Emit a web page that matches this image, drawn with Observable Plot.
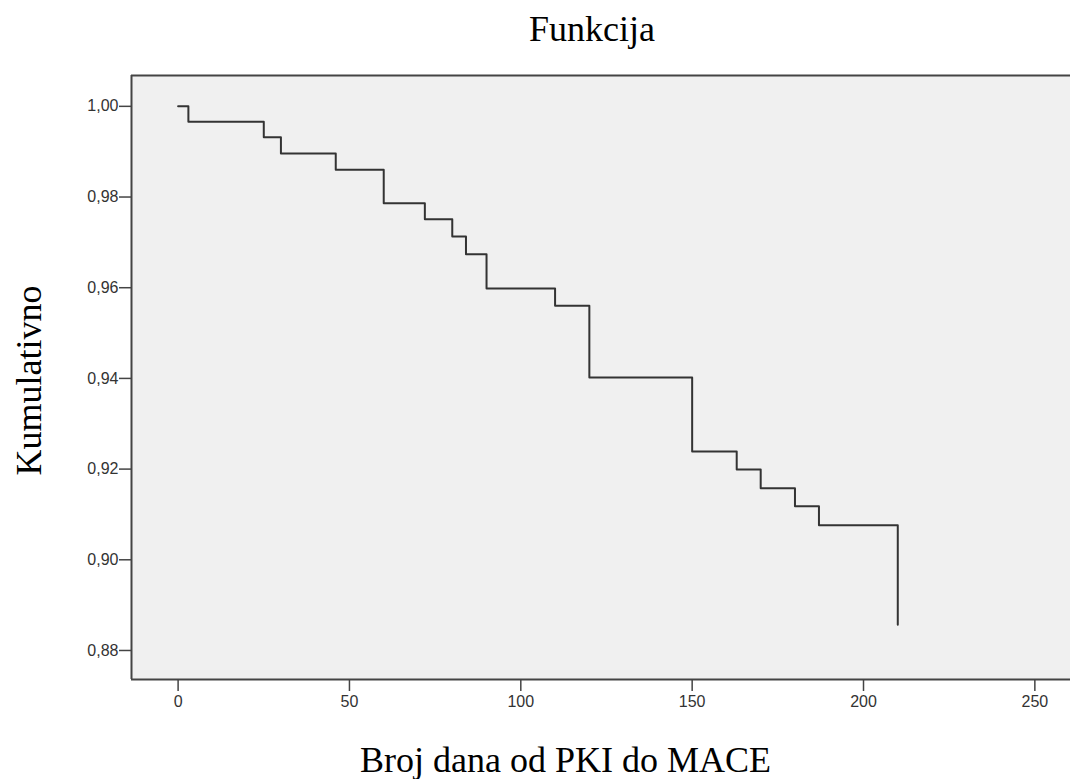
<!DOCTYPE html>
<html>
<head>
<meta charset="utf-8">
<script src="https://cdn.jsdelivr.net/npm/d3@7"></script>
<script src="https://cdn.jsdelivr.net/npm/@observablehq/plot@0.6"></script>
<style>
  html, body { margin: 0; padding: 0; background: #ffffff; }
  #chart { width: 1070px; height: 779px; overflow: hidden; }
</style>
</head>
<body>
<div id="chart"></div>
<script>
// Survival steps (days, cumulative)
const days = [0, 3, 25, 30, 46, 60, 72, 80, 84, 90, 110, 120, 150, 163, 170, 180, 187, 210];
const cumulative = [1.000, 0.9966, 0.9932, 0.9896, 0.9860, 0.9786, 0.9751, 0.9713, 0.9674, 0.9598, 0.9560, 0.9402, 0.9239, 0.9199, 0.9158, 0.9118, 0.9076, 0.8857];
const xTicks = [0, 50, 100, 150, 200, 250];
const yTicks = [0.88, 0.90, 0.92, 0.94, 0.96, 0.98, 1.00];
const titleText = "Funkcija";
const xLabel = "Broj dana od PKI do MACE";
const yLabel = "Kumulativno";

const data = days.map((d, i) => ({day: d, cum: cumulative[i]}));
const xDomain = [-13.6, 260.4];
const yDomain = [0.8736, 1.0068];

const serif = "'Liberation Serif', 'Times New Roman', serif";
const sans = "'Liberation Sans', Arial, sans-serif";

const chart = Plot.plot({
  width: 1070,
  height: 779,
  marginLeft: 131,
  marginTop: 75,
  marginBottom: 100,
  marginRight: 0,
  style: {background: "#ffffff", fontFamily: sans},
  x: {domain: xDomain},
  y: {domain: yDomain},
  marks: [
    Plot.frame({fill: "#f0f0f0", stroke: null}),
    Plot.line(data, {x: "day", y: "cum", curve: "step-after", stroke: "#333", strokeWidth: 2}),
    Plot.ruleY([yDomain[1]], {stroke: "#444", strokeWidth: 2}),
    Plot.ruleY([yDomain[0]], {stroke: "#444", strokeWidth: 2}),
    Plot.ruleX([xDomain[0]], {stroke: "#444", strokeWidth: 2}),
    Plot.axisY({
      ticks: yTicks,
      tickFormat: d => d.toFixed(2).replace(".", ","),
      tickSize: 12,
      tickPadding: 1,
      fontSize: 16,
      stroke: "#444",
      strokeWidth: 1.5,
      color: "#333",
      label: null
    }),
    Plot.axisX({
      ticks: xTicks,
      tickFormat: d => String(d),
      tickSize: 12,
      tickPadding: 4,
      fontSize: 16,
      stroke: "#444",
      strokeWidth: 1.5,
      color: "#333",
      label: null
    }),
    Plot.text([titleText], {
      frameAnchor: "top", dx: -9, dy: -46.5, textAnchor: "middle",
      fontSize: 36, fontFamily: serif, fill: "#000", lineAnchor: "middle"
    }),
    Plot.text([xLabel], {
      frameAnchor: "bottom", dx: -35.5, dy: 81, textAnchor: "middle",
      fontSize: 36, fontFamily: serif, fill: "#000", lineAnchor: "middle"
    }),
    Plot.text([yLabel], {
      frameAnchor: "left", dx: -102.5, dy: 3, rotate: -90, textAnchor: "middle",
      fontSize: 36, fontFamily: serif, fill: "#000", lineAnchor: "middle"
    })
  ]
});
document.getElementById("chart").appendChild(chart);
</script>
</body>
</html>
